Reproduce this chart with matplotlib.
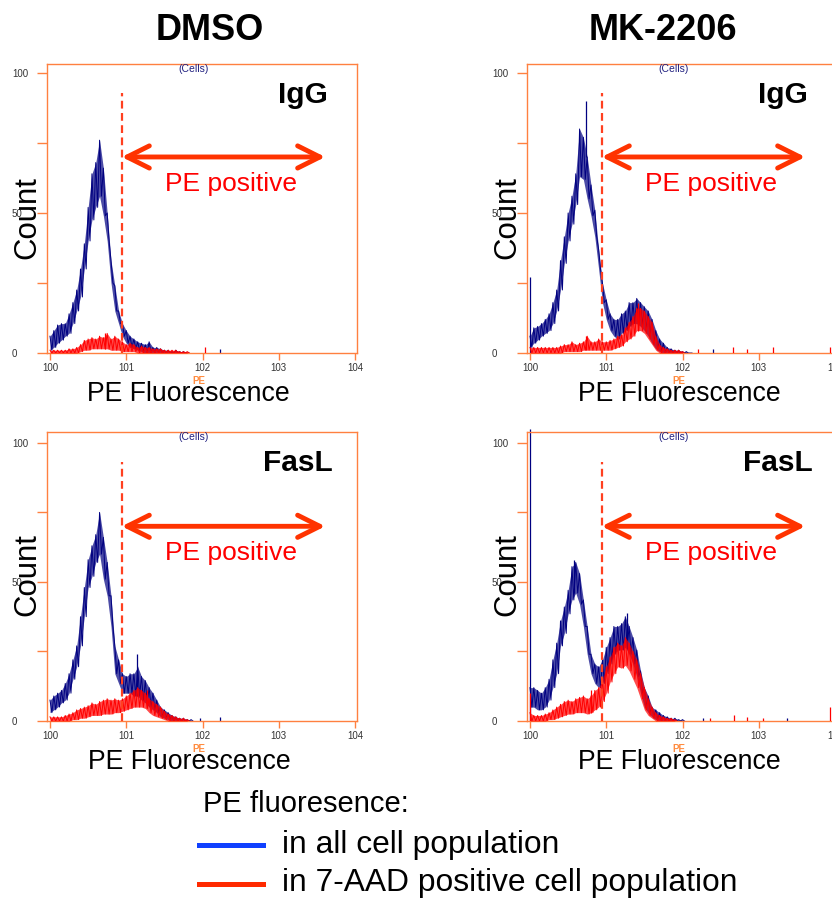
import numpy as np
import matplotlib
matplotlib.use("Agg")
import matplotlib.pyplot as plt

plt.rcParams['font.family'] = ['Liberation Sans', 'DejaVu Sans']

# channel step (in decades) of the values
STEP = 0.05
TICK_LABELS = ['100', '101', '102', '103', '104']
GATE = 0.94  # PE positive gate, in decades

# upper / lower edge of each noisy histogram trace, read every 0.05 decade from 10^0
dmso_igg_all_hi = [6, 8, 10, 10.5, 10.5, 14, 18, 22.5, 30, 39, 52, 64, 68, 76, 66, 50, 33, 24, 15, 10.5,
                   8, 6, 5, 4, 3.5, 3, 4, 2, 2, 1.5, 1, 1, 0.5, 1, 0.5, 0.5, 0]
dmso_igg_all_lo = [1, 2, 3.5, 4.6, 6, 7, 10.5, 15, 20, 30, 40, 47.5, 52, 56, 49, 40, 25, 15, 10.5, 6,
                   3.5, 2, 1.5, 1, 0.5, 0, 0, 0, 0, 0, 0, 0, 0, 0, 0, 0, 0]
dmso_igg_aad_hi = [1, 1, 1, 1, 1, 1.5, 1.5, 2, 3, 4.5, 5, 5.5, 5, 6, 5.5, 7, 5, 6, 5, 4,
                   3, 3.5, 3, 2, 2.5, 2, 2, 1.5, 1.5, 1.5, 1, 1, 1, 1, 0.5, 0.5, 0.5]
dmso_igg_aad_lo = [0, 0, 0, 0, 0, 0, 0, 0, 0.5, 1, 1, 1.5, 1.5, 1.5, 1.5, 1.5, 1, 1, 1, 0.5,
                   0.5, 0.5, 0.5, 0, 0, 0, 0, 0, 0, 0, 0, 0, 0, 0, 0, 0, 0]

mk_igg_all_hi = [6, 9, 9.5, 10.5, 12, 14, 18, 22.5, 33, 41.5, 50, 56, 64, 80, 77, 70, 60, 51, 37, 25,
                 19, 14, 12, 12, 14, 15, 18, 18, 19.5, 18, 16.5, 15, 12, 8, 5, 3.5, 2, 1.5, 1, 1,
                 0.5, 0.5, 0]
mk_igg_all_lo = [2, 3.5, 4.6, 6, 7, 8, 10.5, 15, 22.5, 32, 40, 46, 53, 63, 62, 55, 49, 41.5, 30, 18,
                 12, 8, 6, 5, 7, 8, 9.5, 10.5, 10.5, 9.5, 8, 6, 3.5, 1.5, 0.5, 0, 0, 0, 0, 0,
                 0, 0, 0]
mk_igg_aad_hi = [2, 2, 2, 2, 2, 2, 2, 2, 2.5, 3, 3, 4, 3, 3.5, 4, 6, 4, 4, 5, 4,
                 4, 4.5, 5, 6, 6.5, 9, 11, 13, 16, 16, 15, 13, 11, 6, 3, 2, 1.5, 1, 1, 1, 0.5]
mk_igg_aad_lo = [0, 0, 0, 0, 0, 0, 0, 0, 0, 0.5, 0.5, 0.5, 0.5, 0.5, 1, 1, 1, 1, 1, 1,
                 1, 1, 1.5, 2, 2.5, 4, 5, 6, 8, 8, 7, 5, 3, 1, 0, 0, 0, 0, 0, 0, 0]

dmso_fasl_all_hi = [7.5, 9, 10, 11, 13.5, 17, 22, 27, 37.5, 48, 58, 63, 67, 75, 66, 57, 45, 27, 22, 17,
                    16, 17, 17, 19.5, 16, 14.5, 12, 10, 7.5, 5, 4, 3, 2, 1.5, 1, 1, 0.5, 0.5]
dmso_fasl_all_lo = [3, 4, 5, 6.5, 7.5, 10, 15, 19.5, 27, 37.5, 48, 52, 57, 60, 51, 45, 34, 17, 13.5, 10,
                    10, 10, 9, 9, 7.5, 6.5, 5, 4, 3, 1.5, 1, 0.5, 0, 0, 0, 0, 0, 0]
dmso_fasl_aad_hi = [1.5, 1.5, 1.5, 1.5, 2, 2.5, 3, 4, 4.5, 5, 5.5, 6.5, 6, 7, 7.5, 8, 7.5, 8, 7.5, 8,
                    9, 10, 11, 12, 11, 10, 8, 7, 6, 5, 3.5, 2.5, 2, 1.5, 1, 1, 0.5]
dmso_fasl_aad_lo = [0, 0, 0, 0, 0, 0, 0.5, 0.5, 1, 1, 1.5, 2, 2, 2, 2.5, 2.5, 2.5, 3, 3, 3.5,
                    4, 4.5, 5, 5, 5, 4.5, 3, 2, 1.5, 1, 0.5, 0, 0, 0, 0, 0, 0]

mk_fasl_all_hi = [12, 12, 11, 10, 12, 15, 22, 28, 36, 41, 47, 55.5, 57, 53, 43.5, 34, 24, 20.5, 19.5, 22,
                  26.5, 30, 34, 34, 35, 37.5, 34, 30, 25.5, 18, 12, 9, 5, 4, 3, 2, 1.5, 1, 1, 0.5, 0.5]
mk_fasl_all_lo = [5, 5, 4, 4, 5, 7.5, 12, 17, 27, 31.5, 38.5, 43.5, 46, 42, 34, 24, 17, 13.5, 12, 13.5,
                  17, 20.5, 24, 25.5, 25.5, 26.5, 24, 20.5, 16, 10, 5, 3, 1.5, 0.5, 0, 0, 0, 0, 0, 0, 0]
mk_fasl_aad_hi = [3, 2, 2, 2, 2.5, 3, 4, 5, 6, 7, 7.5, 7, 8, 8.5, 9, 8, 9, 11, 12, 15,
                  19.5, 23, 26.5, 28, 27, 30, 28, 25, 22, 17, 12, 8, 5, 3, 2, 1.5, 1, 1, 0.5]
mk_fasl_aad_lo = [0, 0, 0, 0, 0, 0.5, 0.5, 1, 1.5, 2, 2.5, 2.5, 3, 3, 3, 2.5, 3, 4, 5, 7,
                  10, 14, 17, 19.5, 19, 20, 18, 15, 12, 8, 4, 2, 1, 0, 0, 0, 0, 0, 0]

# single tall channels: (position in decades, from count, to count)
dmso_igg_all_spikes = [(2.23, 0, 1.5)]
dmso_igg_aad_spikes = [(0.72, 1.5, 7), (2.03, 0, 2)]
mk_igg_all_spikes = [(0.0, 0, 27), (0.735, 70, 90), (2.40, 0, 1.5)]
mk_igg_aad_spikes = [(0.74, 1, 6), (1.41, 8, 18), (2.2, 0, 1.5), (2.66, 0, 2), (2.85, 0, 1.5),
                     (3.19, 0, 2), (3.94, 0, 2)]
dmso_fasl_all_spikes = [(1.14, 9, 24), (1.97, 0, 1), (2.23, 0, 1.5)]
dmso_fasl_aad_spikes = [(1.27, 4.5, 11)]
mk_fasl_all_spikes = [(0.0, 0, 105), (0.58, 46, 58), (1.27, 26, 39), (2.27, 0, 1), (3.37, 0, 1)]
mk_fasl_aad_spikes = [(0.0, 0, 10), (0.80, 3, 11), (2.36, 0, 1), (2.67, 0, 2), (2.85, 0, 1.5),
                      (3.05, 0, 1), (3.93, 0, 5)]

W, H = 832, 898
ORANGE = '#FF8040'
NAVY = '#000080'
RED = '#FF0000'
ARROW_RED = '#FF3300'


def draw_trace(ax, hi, lo, spikes, color, z):
    x = np.arange(len(hi)) * STEP
    ax.fill_between(x, lo, hi, color=color, alpha=0.7, lw=0, zorder=z)
    xz = np.column_stack([x, x + STEP / 2]).ravel()
    yz = np.column_stack([hi, lo]).ravel()
    ax.plot(xz, yz, color=color, lw=0.7, zorder=z)
    for pos, y0, y1 in spikes:
        ax.vlines(pos, y0, y1, color=color, lw=0.9, zorder=z, clip_on=(y1 < 100))


def make_panel(left, top, ymax, label, label_right, traces):
    ax = fig.add_axes([left / W, 1 - (top + 289) / H, 310 / W, 289 / H])
    ax.set_xlim(-0.0393, 4.026)
    ax.set_ylim(0, ymax)
    for hi, lo, spikes, color, z in traces:
        draw_trace(ax, hi, lo, spikes, color, z)

    ax.set_xticks(range(5))
    ax.set_xticklabels(TICK_LABELS)
    ax.set_yticks([0, 50, 100])
    ax.set_yticks([25, 75], minor=True)
    ax.tick_params(which='both', color=ORANGE, direction='out', width=1,
                   labelsize=7, labelcolor='#333333')
    ax.tick_params(axis='y', which='both', length=7.2, pad=18)
    ax.tick_params(axis='x', length=5, pad=2)
    for lbl in ax.get_yticklabels():
        lbl.set_horizontalalignment('left')
    for s in ax.spines.values():
        s.set_color(ORANGE)
        s.set_linewidth(1)

    # gate line and PE positive arrow
    ax.plot([GATE, GATE], [0, 93], color='#FF4020', lw=1.6, dashes=(3.5, 2), zorder=5)
    ax.annotate('', xy=(3.61, 70), xytext=(GATE, 70),
                arrowprops=dict(arrowstyle='<->,head_length=0.8,head_width=0.4', lw=3.5,
                                color=ARROW_RED, shrinkA=0, shrinkB=0, mutation_scale=20),
                zorder=6)
    ax.text(2.37, 58, 'PE positive', color=RED, fontsize=19, ha='center', va='baseline', zorder=6)

    fig.text((left + 147) / W, 1 - (top + 5) / H, '(Cells)', color='#202080', fontsize=7.5,
             ha='center', va='center')
    fig.text((left + label_right) / W, 1 - (top + 39) / H, label, fontsize=21.5,
             fontweight='bold', ha='right', va='baseline')
    return ax


fig = plt.figure(figsize=(W / 100, H / 100), dpi=100)

panels = [
    (47, 64, 103.2, 'IgG', 281,
     [(dmso_igg_all_hi, dmso_igg_all_lo, dmso_igg_all_spikes, NAVY, 2),
      (dmso_igg_aad_hi, dmso_igg_aad_lo, dmso_igg_aad_spikes, RED, 3)]),
    (527, 64, 103.2, 'IgG', 281,
     [(mk_igg_all_hi, mk_igg_all_lo, mk_igg_all_spikes, NAVY, 2),
      (mk_igg_aad_hi, mk_igg_aad_lo, mk_igg_aad_spikes, RED, 3)]),
    (47, 432, 103.9, 'FasL', 286,
     [(dmso_fasl_all_hi, dmso_fasl_all_lo, dmso_fasl_all_spikes, NAVY, 2),
      (dmso_fasl_aad_hi, dmso_fasl_aad_lo, dmso_fasl_aad_spikes, RED, 3)]),
    (527, 432, 103.9, 'FasL', 286,
     [(mk_fasl_all_hi, mk_fasl_all_lo, mk_fasl_all_spikes, NAVY, 2),
      (mk_fasl_aad_hi, mk_fasl_aad_lo, mk_fasl_aad_spikes, RED, 3)]),
]
for p in panels:
    make_panel(*p)

# axis captions placed like the overlays in the original figure
for cx, cy in [(27.5, 218), (507.5, 218), (27.5, 575), (507.5, 575)]:
    fig.text(cx / W, 1 - cy / H, 'Count', fontsize=22.4, rotation=90, ha='center', va='center',
             zorder=10)
for cx, base in [(188.5, 401), (679, 401), (189, 769), (679, 769)]:
    fig.text(cx / W, 1 - base / H, 'PE Fluorescence', fontsize=19.2, ha='center', va='baseline')
for cx, cy in [(199, 381), (679, 381), (199, 749), (679, 749)]:
    fig.text(cx / W, 1 - cy / H, 'PE', fontsize=7, color='#FF8C40', fontweight='bold',
             ha='center', va='center')

fig.text(210 / W, 1 - 40 / H, 'DMSO', fontsize=26, fontweight='bold', ha='center', va='baseline')
fig.text(663 / W, 1 - 40 / H, 'MK-2206', fontsize=26, fontweight='bold', ha='center', va='baseline')

# legend
fig.text(203 / W, 1 - 812 / H, 'PE fluoresence:', fontsize=21, va='baseline')
fig.add_artist(plt.Line2D([199 / W, 263 / W], [1 - 845 / H, 1 - 845 / H], color='#1040FF', lw=3.6))
fig.add_artist(plt.Line2D([199 / W, 263 / W], [1 - 884 / H, 1 - 884 / H], color='#FF2A00', lw=3.6))
fig.text(282 / W, 1 - 853 / H, 'in all cell population', fontsize=22.9, va='baseline')
fig.text(282 / W, 1 - 891.5 / H, 'in 7-AAD positive cell population', fontsize=22.9, va='baseline')

fig.savefig('out.png', dpi=100)
